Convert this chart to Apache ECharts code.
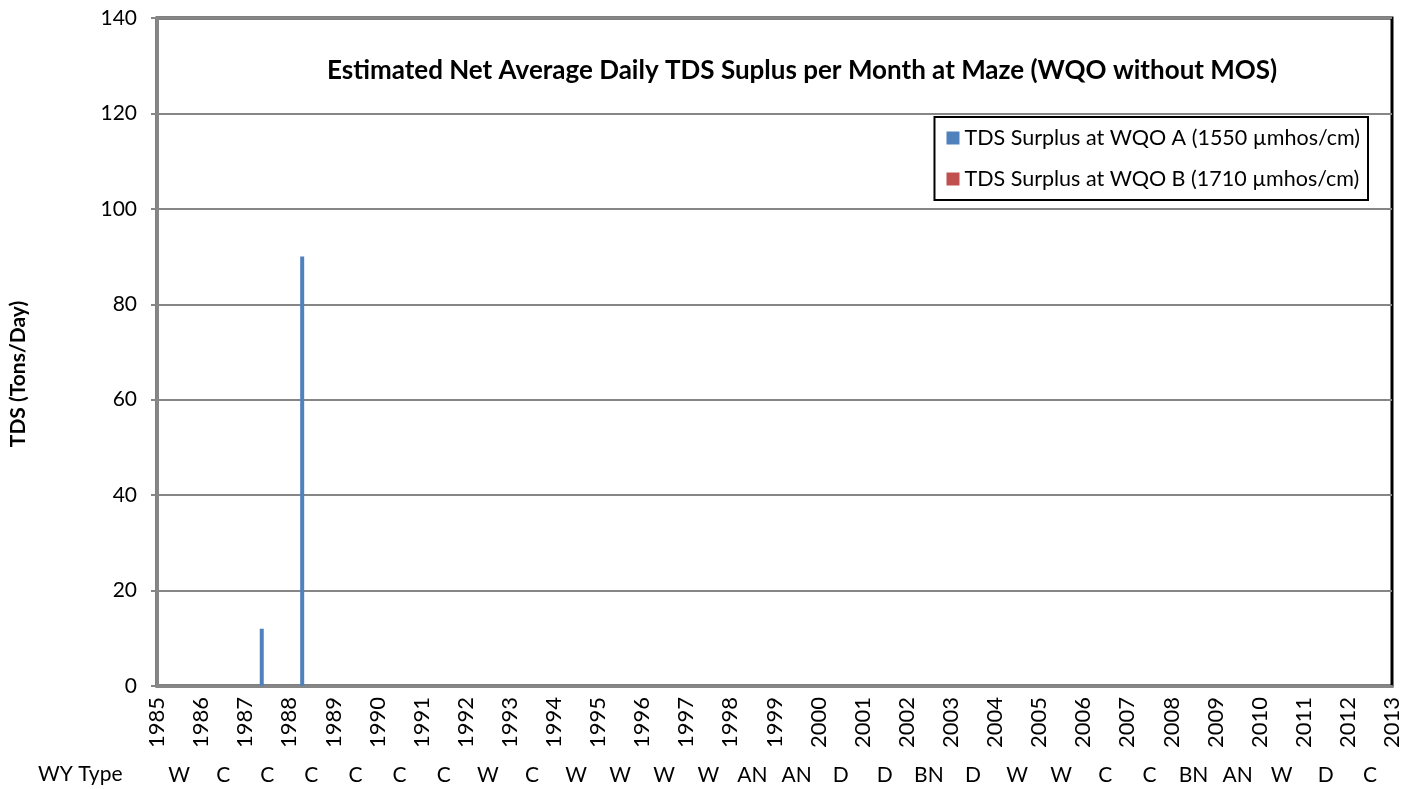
<!DOCTYPE html>
<html>
<head>
<meta charset="utf-8">
<style>
  html, body { margin: 0; padding: 0; background: #fff; }
  #chart { width: 1410px; height: 789px; }
</style>
<script src="https://cdn.jsdelivr.net/npm/echarts@6/dist/echarts.min.js"></script>
</head>
<body>
<div id="chart"></div>
<script>
// year ticks along the bottom
const firstYear = 1985;
const lastYear = 2013;

// water year type for each year band
const wyTypes = ['W', 'C', 'C', 'C', 'C', 'C', 'C', 'W', 'C', 'W', 'W', 'W', 'W', 'AN',
    'AN', 'D', 'D', 'BN', 'D', 'W', 'W', 'C', 'C', 'BN', 'AN', 'W', 'D', 'C'];

// monthly surplus, only non-zero months listed
const monthsA = ['1987-05', '1988-04'];
const valuesA = [12, 90];
const monthsB = [];
const valuesB = [];

const font = 'Lato, "Open Sans", sans-serif';

// put a month in the middle of its slot on the year scale
function monthPos(m) {
    const [y, mo] = m.split('-').map(Number);
    return y + (mo - 0.5) / 12;
}

const chart = echarts.init(document.getElementById('chart'));

const option = {
    animation: false,
    textStyle: { fontFamily: font },
    title: {
        text: 'Estimated Net Average Daily TDS Suplus per Month at Maze (WQO without MOS)',
        left: 322,
        top: 53,
        textStyle: { fontFamily: font, fontSize: 26, fontWeight: 'bold', color: '#000' }
    },
    legend: {
        orient: 'vertical',
        right: 42,
        top: 117,
        padding: [10, 8, 10, 12],
        itemGap: 19,
        itemWidth: 13,
        itemHeight: 13,
        borderColor: '#000',
        borderWidth: 2,
        backgroundColor: '#fff',
        icon: 'rect',
        textStyle: { fontFamily: font, fontSize: 21.5, color: '#000' },
        data: ['TDS Surplus at WQO A (1550 µmhos/cm)', 'TDS Surplus at WQO B (1710 µmhos/cm)']
    },
    graphic: [{
        type: 'text',
        left: 38,
        top: 764,
        style: { text: 'WY Type', font: '21px ' + font, fill: '#000' }
    }],
    grid: {
        left: 157,
        right: 18,
        top: 18,
        bottom: 103,
        show: true,
        borderColor: '#000',
        borderWidth: 3
    },
    xAxis: [{
        type: 'value',
        min: firstYear,
        max: lastYear,
        interval: 1,
        axisLine: { show: true, onZero: false, lineStyle: { color: '#868686', width: 3 } },
        axisTick: { show: false },
        splitLine: { show: false },
        axisLabel: {
            rotate: 90,
            margin: 11,
            fontSize: 22,
            color: '#000',
            formatter: v => String(v)
        }
    }, {
        type: 'category',
        position: 'bottom',
        offset: 89,
        data: wyTypes.map((t, i) => i),
        axisLine: { show: false },
        axisTick: { show: false },
        axisLabel: {
            margin: 0,
            verticalAlign: 'middle',
            fontSize: 21,
            color: '#000',
            interval: 0,
            formatter: v => wyTypes[v]
        }
    }],
    yAxis: {
        type: 'value',
        min: 0,
        max: 140,
        interval: 20,
        name: 'TDS (Tons/Day)',
        nameLocation: 'middle',
        nameGap: 128,
        nameRotate: 90,
        nameTextStyle: { fontFamily: font, fontSize: 21, fontWeight: 'bold', color: '#000', padding: [0, 44, 0, 0] },
        axisLine: { show: true, lineStyle: { color: '#868686', width: 3 } },
        axisTick: { show: true, length: 6, lineStyle: { color: '#868686', width: 2 } },
        splitLine: { lineStyle: { color: '#868686', width: 2 } },
        axisLabel: { margin: 20, fontSize: 21, color: '#000' }
    },
    series: [{
        name: 'TDS Surplus at WQO A (1550 µmhos/cm)',
        type: 'bar',
        xAxisIndex: 0,
        barWidth: 4,
        itemStyle: { color: '#4F81BD' },
        data: monthsA.map((m, i) => [monthPos(m), valuesA[i]])
    }, {
        name: 'TDS Surplus at WQO B (1710 µmhos/cm)',
        type: 'bar',
        xAxisIndex: 0,
        barWidth: 4,
        barGap: '-100%',
        itemStyle: { color: '#C0504D' },
        data: monthsB.map((m, i) => [monthPos(m), valuesB[i]])
    }]
};

chart.setOption(option);

window.addEventListener('resize', () => {
    chart.resize();
});
</script>
</body>
</html>
